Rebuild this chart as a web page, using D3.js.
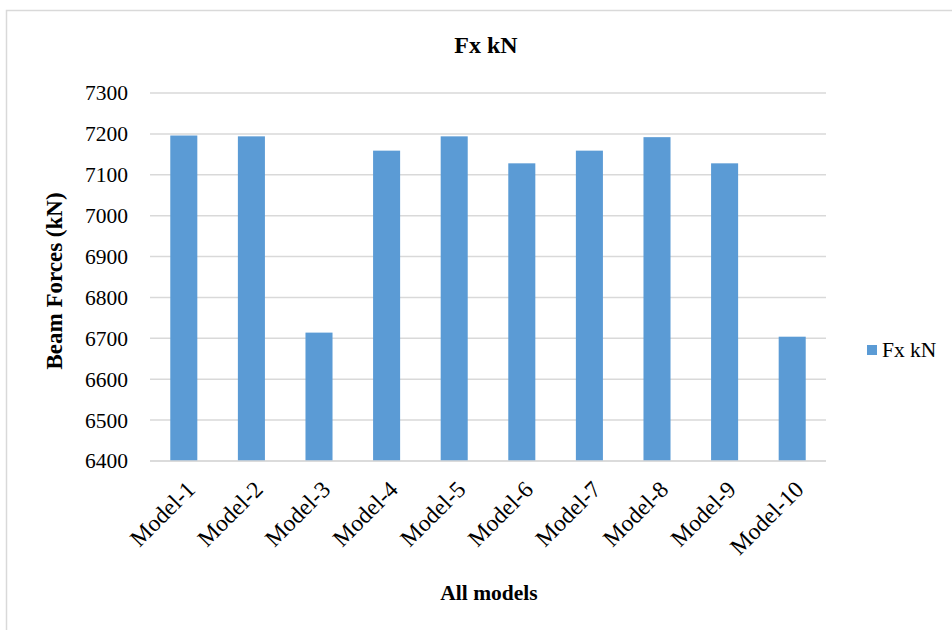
<!DOCTYPE html>
<html>
<head>
<meta charset="utf-8">
<script src="https://cdn.jsdelivr.net/npm/d3@7"></script>
<style>
  html, body { margin: 0; padding: 0; background: #fff; }
  svg { display: block; }
  text { font-family: "Liberation Serif", "Times New Roman", serif; fill: #000; }
</style>
</head>
<body>
<svg id="chart" width="952" height="630"></svg>
<script>
// Axial beam force per model
const categories = ["Model-1", "Model-2", "Model-3", "Model-4", "Model-5",
                    "Model-6", "Model-7", "Model-8", "Model-9", "Model-10"];
const fxValues = [7196, 7194, 6714, 7159, 7194, 7128, 7159, 7192, 7128, 6704];
const yTicks = [6400, 6500, 6600, 6700, 6800, 6900, 7000, 7100, 7200, 7300];
const seriesName = "Fx kN";

const svg = d3.select("#chart");
const W = 952, H = 630;
const plot = { left: 150, right: 826, top: 93, bottom: 461 };
const barColor = "#5b9bd5";
const gridColor = "#d9d9d9";
const serif = '"Liberation Serif", "Times New Roman", serif';

// chart frame
svg.append("rect")
  .attr("x", 6.5).attr("y", 10.5)
  .attr("width", W + 20).attr("height", H + 20)
  .attr("fill", "#fff").attr("stroke", "#d9d9d9").attr("stroke-width", 1.5);

const x = d3.scaleBand().domain(categories)
  .range([plot.left, plot.right]).paddingInner(0.6).paddingOuter(0.3);
const y = d3.scaleLinear().domain([6400, 7300]).range([plot.bottom, plot.top]);

// horizontal gridlines
svg.append("g").selectAll("line").data(yTicks).join("line")
  .attr("x1", plot.left).attr("x2", plot.right)
  .attr("y1", d => y(d)).attr("y2", d => y(d))
  .attr("stroke", gridColor).attr("stroke-width", 1.5);

// y axis labels
const yAxis = d3.axisLeft(y).tickValues(yTicks).tickSize(0).tickPadding(0).tickFormat(d3.format("d"));
const gy = svg.append("g").attr("transform", `translate(${plot.left - 22},0)`).call(yAxis);
gy.select(".domain").remove();
gy.selectAll("text")
  .style("font-family", serif)
  .style("font-size", "21.5px").attr("fill", "#000");

// bars
svg.append("g").selectAll("rect").data(fxValues).join("rect")
  .attr("x", (d, i) => x(categories[i]))
  .attr("width", x.bandwidth())
  .attr("y", d => y(d))
  .attr("height", d => y(6400) - y(d))
  .attr("fill", barColor);

// x axis line on top of bars
svg.append("line")
  .attr("x1", plot.left).attr("x2", plot.right)
  .attr("y1", y(6400)).attr("y2", y(6400))
  .attr("stroke", gridColor).attr("stroke-width", 1.5);

// x axis category labels, rotated
const xAxis = d3.axisBottom(x).tickSize(0).tickPadding(0);
const gx = svg.append("g").attr("transform", `translate(0,${plot.bottom})`).call(xAxis);
gx.select(".domain").remove();
gx.selectAll("text")
  .style("font-family", serif)
  .style("font-size", "23.5px").attr("fill", "#000")
  .attr("text-anchor", "end")
  .attr("dy", "0.35em")
  .attr("transform", "translate(7,24) rotate(-45)");

// title
svg.append("text")
  .attr("x", 486).attr("y", 53)
  .attr("text-anchor", "middle")
  .attr("font-size", "24px").attr("font-weight", "bold")
  .text(seriesName);

// axis titles
svg.append("text")
  .attr("x", 489).attr("y", 600)
  .attr("text-anchor", "middle")
  .attr("font-size", "21.5px").attr("font-weight", "bold")
  .text("All models");

svg.append("text")
  .attr("transform", "translate(62,281) rotate(-90)")
  .attr("text-anchor", "middle")
  .attr("font-size", "23px").attr("font-weight", "bold")
  .text("Beam Forces (kN)");

// legend
const lg = svg.append("g").attr("transform", "translate(867,345)");
lg.append("rect").attr("width", 10).attr("height", 10).attr("fill", barColor);
lg.append("text").attr("x", 15).attr("y", 12)
  .attr("font-size", "21.5px").text(seriesName);
</script>
</body>
</html>
